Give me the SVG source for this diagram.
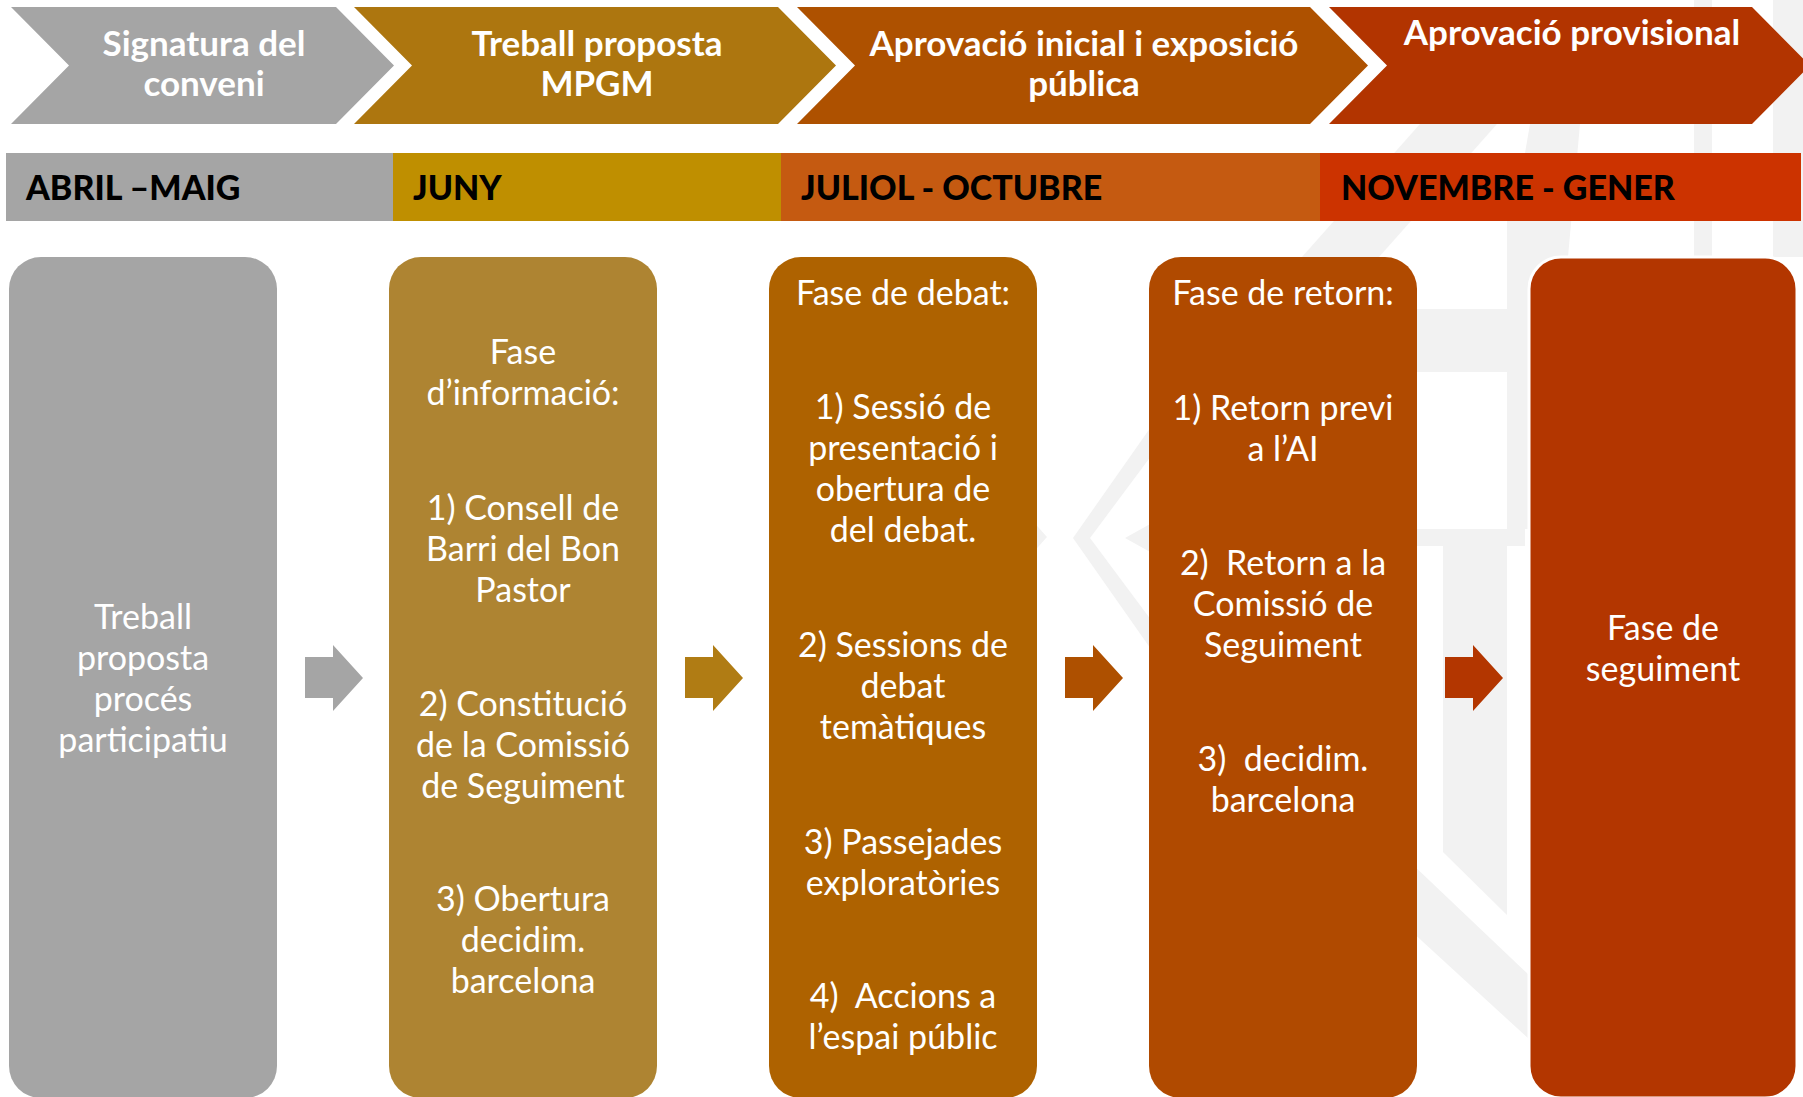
<svg xmlns="http://www.w3.org/2000/svg" width="1803" height="1097" viewBox="0 0 1803 1097">
<style>
.wm{fill:#f2f2f2}
.chev-t{font-family:Lato,"Open Sans",sans-serif;font-weight:700;font-size:35px;fill:#fff;text-anchor:middle}
.mon-t{font-family:Lato,"Open Sans",sans-serif;font-weight:900;font-size:34px;fill:#000}
.box-t{font-family:Lato,"Open Sans",sans-serif;font-weight:400;font-size:34px;fill:#fff;text-anchor:middle}
</style>
<rect x="0" y="0" width="1803" height="1097" fill="#fff"/>
<g id="watermark">
<polygon class="wm" points="1073,538 1160,414 1160,444 1090,538 1160,632 1160,662"/>
<polygon class="wm" points="1125,538 1152,523 1152,553"/>
<polygon class="wm" points="1030,518 1047,537 1030,556"/>
<rect class="wm" x="1507" y="221" width="61" height="308"/>
<rect class="wm" x="1410" y="309" width="115" height="63"/>
<rect class="wm" x="1410" y="529" width="115" height="17"/>
<polygon class="wm" points="1443,546 1507,546 1507,915 1443,852"/>
<polygon class="wm" points="1410,862 1530,976 1530,1040 1410,930"/>
<polygon class="wm" points="1420,124 1497,124 1379,257 1302,257"/>
<polygon class="wm" points="1530,124 1580,124 1568,257 1507,257"/>
<rect class="wm" x="1694" y="0" width="18" height="257"/>
<rect class="wm" x="1773" y="0" width="30" height="257"/>
</g>
<g id="months">
<rect x="6" y="153" width="387" height="68" fill="#a5a5a5"/>
<rect x="393" y="153" width="388" height="68" fill="#bf8f00"/>
<rect x="781" y="153" width="539" height="68" fill="#c55a11"/>
<rect x="1320" y="153" width="481" height="68" fill="#cc3300"/>
<text class="mon-t" x="26" y="200">ABRIL –MAIG</text>
<text class="mon-t" x="413" y="200">JUNY</text>
<text class="mon-t" x="801" y="200">JULIOL - OCTUBRE</text>
<text class="mon-t" x="1341" y="200">NOVEMBRE - GENER</text>
</g>
<g id="stage1">
<path d="M11,7 H336 L394,65.5 L336,124 H11 L69,65.5 Z" fill="#a5a5a5"/>
<text class="chev-t" x="204" y="56">Signatura del</text>
<text class="chev-t" x="204" y="96">conveni</text>
</g>
<g id="stage2">
<path d="M354,7 H778 L836,65.5 L778,124 H354 L412,65.5 Z" fill="#ad760f"/>
<text class="chev-t" x="597" y="56">Treball proposta</text>
<text class="chev-t" x="597" y="96">MPGM</text>
</g>
<g id="stage3">
<path d="M797,7 H1310 L1368,65.5 L1310,124 H797 L855,65.5 Z" fill="#ae5100"/>
<text class="chev-t" x="1084" y="56">Aprovació inicial i exposició</text>
<text class="chev-t" x="1084" y="96">pública</text>
</g>
<g id="stage4">
<path d="M1329,7 H1752 L1810,65.5 L1752,124 H1329 L1387,65.5 Z" fill="#b23400"/>
<text class="chev-t" x="1572" y="45">Aprovació provisional</text>
</g>
<g id="box1">
<rect x="9" y="257" width="268" height="841" rx="32" fill="#a5a5a5"/>
<text class="box-t" x="143" y="629">Treball</text>
<text class="box-t" x="143" y="670">proposta</text>
<text class="box-t" x="143" y="711">procés</text>
<text class="box-t" x="143" y="752">participatiu</text>
</g>
<g id="box2">
<rect x="389" y="257" width="268" height="841" rx="32" fill="#ae8432"/>
<text class="box-t" x="523" y="364">Fase</text>
<text class="box-t" x="523" y="405">d’informació:</text>
<text class="box-t" x="523" y="520">1) Consell de</text>
<text class="box-t" x="523" y="561">Barri del Bon</text>
<text class="box-t" x="523" y="602">Pastor</text>
<text class="box-t" x="523" y="716">2) Constitució</text>
<text class="box-t" x="523" y="757">de la Comissió</text>
<text class="box-t" x="523" y="798">de Seguiment</text>
<text class="box-t" x="523" y="911">3) Obertura</text>
<text class="box-t" x="523" y="952">decidim.</text>
<text class="box-t" x="523" y="993">barcelona</text>
</g>
<g id="box3">
<rect x="769" y="257" width="268" height="841" rx="32" fill="#ae6200"/>
<text class="box-t" x="903" y="305">Fase de debat:</text>
<text class="box-t" x="903" y="419">1) Sessió de</text>
<text class="box-t" x="903" y="460">presentació i</text>
<text class="box-t" x="903" y="501">obertura de</text>
<text class="box-t" x="903" y="542">del debat.</text>
<text class="box-t" x="903" y="657">2) Sessions de</text>
<text class="box-t" x="903" y="698">debat</text>
<text class="box-t" x="903" y="739">temàtiques</text>
<text class="box-t" x="903" y="854">3) Passejades</text>
<text class="box-t" x="903" y="895">exploratòries</text>
<text class="box-t" x="903" y="1008">4)&#160; Accions a</text>
<text class="box-t" x="903" y="1049">l’espai públic</text>
</g>
<g id="box4">
<rect x="1149" y="257" width="268" height="841" rx="32" fill="#b04a00"/>
<text class="box-t" x="1283" y="305">Fase de retorn:</text>
<text class="box-t" x="1283" y="420">1) Retorn previ</text>
<text class="box-t" x="1283" y="461">a l’AI</text>
<text class="box-t" x="1283" y="575">2)&#160; Retorn a la</text>
<text class="box-t" x="1283" y="616">Comissió de</text>
<text class="box-t" x="1283" y="657">Seguiment</text>
<text class="box-t" x="1283" y="771">3)&#160; decidim.</text>
<text class="box-t" x="1283" y="812">barcelona</text>
</g>
<g id="box5">
<rect x="1529" y="257" width="268" height="841" rx="32" fill="#b33600" stroke="#fff" stroke-width="3"/>
<text class="box-t" x="1663" y="640">Fase de</text>
<text class="box-t" x="1663" y="681">seguiment</text>
</g>
<g id="connectors">
<path d="M305,657 H333 V645 L363,678 L333,711 V698 H305 Z" fill="#a5a5a5"/>
<path d="M685,657 H713 V645 L743,678 L713,711 V698 H685 Z" fill="#b07c14"/>
<path d="M1065,657 H1093 V645 L1123,678 L1093,711 V698 H1065 Z" fill="#ae5000"/>
<path d="M1445,657 H1473 V645 L1503,678 L1473,711 V698 H1445 Z" fill="#b33600"/>
</g>
</svg>
